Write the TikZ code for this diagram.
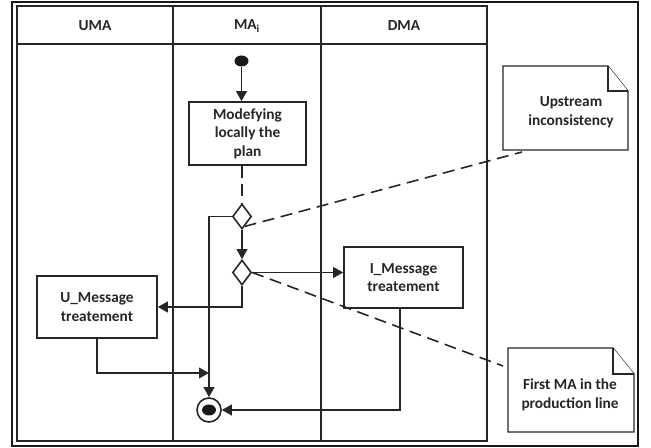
\documentclass[tikz,border=0pt]{standalone}
\usepackage{fontspec}
\setmainfont{Carlito}
\usetikzlibrary{arrows.meta,shapes.geometric,calc}
\begin{document}
\begin{tikzpicture}[x=0.75pt,y=-0.75pt,
  every node/.style={font=\fontsize{11.5}{14}\selectfont\bfseries, text=black!85},
  lane/.style={line width=1.2pt, draw=black!85},
  frame/.style={line width=1.7pt, draw=black!90},
  actbox/.style={draw=black!85, line width=1.2pt, rectangle, align=center, inner sep=0pt},
  decis/.style={draw=black!85, line width=1.2pt, diamond, inner sep=0pt, minimum width=14.25pt, minimum height=18.75pt},
  arr/.style={line width=1.3pt, draw=black!85, -{Triangle[length=7.5pt,width=8pt]}},
  conn/.style={line width=1.3pt, draw=black!85},
  dsh/.style={line width=1.2pt, draw=black!85, dash pattern=on 9pt off 5pt},
  notebox/.style={draw=black!85, line width=0.9pt, fill=white},
  notetext/.style={align=center, inner sep=0pt}]
\useasboundingbox (0,0) rectangle (651,448);
% frame
\draw[frame] (12,2) rectangle (638,446);
% swimlanes
\draw[lane] (17,6) rectangle (487,441);
\draw[lane] (17,44) -- (487,44);
\draw[lane] (173,6) -- (173,441);
\draw[lane] (321,6) -- (321,441);
\node (hU) at (95,26) {UMA};
\node (hM) at (247,26) {MA\textsubscript{i}};
\node (hD) at (404,26) {DMA};
% nodes
\node[ellipse, fill=black!90, inner sep=0pt, minimum width=10.5pt, minimum height=8.25pt] (start) at (241.5,61) {};
\node[actbox, minimum width=87.75pt, minimum height=47.25pt] (mod) at (247.5,133.5) {Modefying\\locally the\\plan};
\node[decis] (d1) at (242,216.5) {};
\node[decis] (d2) at (242,272.5) {};
\node[actbox, minimum width=90pt, minimum height=46.5pt] (umsg) at (97,307) {U\_Message\\treatement};
\node[actbox, minimum width=89.25pt, minimum height=45.75pt] (imsg) at (403.5,277.5) {I\_Message\\treatement};
\node[circle, draw=black!85, line width=1.2pt, minimum size=18pt, inner sep=0pt] (end) at (209,410) {};
\node[ellipse, fill=black!90, inner sep=0pt, minimum width=10.5pt, minimum height=8.25pt] (endin) at (209,410) {};
% notes
\draw[notebox] (503,66) -- (608,66) -- (628,91) -- (628,150) -- (503,150) -- cycle;
\draw[notebox] (608,66) -- (608,91) -- (628,91);
\node[notetext] (n1) at (571,112) {Upstream\\inconsistency};
\draw[notebox] (508,348) -- (613,348) -- (634,374) -- (634,432) -- (508,432) -- cycle;
\draw[notebox] (613,348) -- (613,374) -- (634,374);
\node[notetext] (n2) at (570,395) {First MA in the\\production line};
\coordinate (n1end) at (522,152);
\coordinate (n2end) at (503,366);
\coordinate (j1) at (209,373);
% connectors
\draw[arr] (start) -- (start |- mod.north);
\draw[dsh] (d1 |- mod.south) -- (d1.north);
\draw[arr] (d1.west) -| (end.north);
\draw[arr] (d1.south) -- (d2.north);
\draw[arr] (d2.east) -- (d2.east -| imsg.west);
\draw[arr] (d2.south) |- (umsg.east);
\draw[arr] (umsg.south) |- (j1);
\draw[arr] ([xshift=-3.5*0.75pt]imsg.south) |- (end.east);
\draw[dsh] ($(d1.south)!0.25!(d1.east)$) -- (n1end);
\draw[dsh] (d2.east) -- (n2end);
\end{tikzpicture}
\end{document}
